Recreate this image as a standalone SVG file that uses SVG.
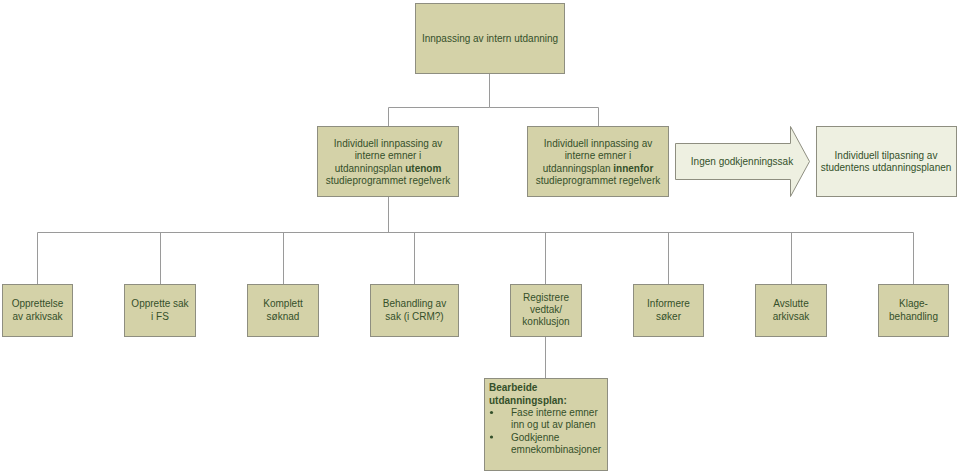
<svg xmlns="http://www.w3.org/2000/svg" width="960" height="471" viewBox="0 0 960 471">
<style>
.box{fill:#d4d2a8;stroke:#8e8e80;stroke-width:1}
.light{fill:#eef0e1;stroke:#8e8e80;stroke-width:1}
.t{font-family:"Liberation Sans",Arial,sans-serif;font-size:10px;fill:#34502a;text-anchor:middle}
.tl{font-family:"Liberation Sans",Arial,sans-serif;font-size:10px;fill:#34502a}
.b{font-weight:bold}
.ln{fill:none;stroke:#9a9a9a;stroke-width:1}
</style>
<rect width="960" height="471" fill="#ffffff"/>
<g id="connectors">
<polyline class="ln" points="489.5,73 489.5,107.5 388.5,107.5 388.5,126"/>
<polyline class="ln" points="489.5,107.5 598.5,107.5 598.5,126"/>
<line class="ln" x1="388.5" y1="196" x2="388.5" y2="232.5"/>
<line class="ln" x1="37.5" y1="232.5" x2="913.5" y2="232.5"/>
<line class="ln" x1="37.5" y1="232.5" x2="37.5" y2="284"/>
<line class="ln" x1="160.5" y1="232.5" x2="160.5" y2="284"/>
<line class="ln" x1="283.5" y1="232.5" x2="283.5" y2="284"/>
<line class="ln" x1="414.5" y1="232.5" x2="414.5" y2="284"/>
<line class="ln" x1="545.5" y1="232.5" x2="545.5" y2="284"/>
<line class="ln" x1="668.5" y1="232.5" x2="668.5" y2="284"/>
<line class="ln" x1="791.5" y1="232.5" x2="791.5" y2="284"/>
<line class="ln" x1="913.5" y1="232.5" x2="913.5" y2="284"/>
<line class="ln" x1="545.5" y1="336" x2="545.5" y2="378"/>
</g>
<g id="top">
<rect class="box" x="415.5" y="3.5" width="149" height="70"/>
<text class="t" x="490" y="42">Innpassing av intern utdanning</text>
</g>
<g id="utenom">
<rect class="box" x="317.5" y="126.5" width="141" height="70"/>
<text class="t" x="388" y="147">Individuell innpassing av</text>
<text class="t" x="388" y="159">interne emner i</text>
<text class="t" x="388" y="171.5">utdanningsplan <tspan class="b">utenom</tspan></text>
<text class="t" x="388" y="184">studieprogrammet regelverk</text>
</g>
<g id="innenfor">
<rect class="box" x="527.5" y="126.5" width="141" height="70"/>
<text class="t" x="598" y="147">Individuell innpassing av</text>
<text class="t" x="598" y="159">interne emner i</text>
<text class="t" x="598" y="171.5">utdanningsplan <tspan class="b">innenfor</tspan></text>
<text class="t" x="598" y="184">studieprogrammet regelverk</text>
</g>
<g id="ingen">
<path class="light" d="M675.5,143.5 L790.5,143.5 L790.5,126.5 L809.5,161.5 L790.5,196.5 L790.5,179.5 L675.5,179.5 Z"/>
<text class="t" x="742" y="165">Ingen godkjenningssak</text>
</g>
<g id="tilpasning">
<rect class="light" x="816.5" y="126.5" width="140" height="70"/>
<text class="t" x="886" y="159">Individuell tilpasning av</text>
<text class="t" x="886" y="171">studentens utdanningsplanen</text>
</g>
<g id="n1">
<rect class="box" x="2.5" y="284.5" width="70" height="52"/>
<text class="t" x="37.5" y="307">Opprettelse</text>
<text class="t" x="37.5" y="319.5">av arkivsak</text>
</g>
<g id="n2">
<rect class="box" x="124.5" y="284.5" width="71" height="52"/>
<text class="t" x="160" y="307">Opprette sak</text>
<text class="t" x="160" y="319.5">i FS</text>
</g>
<g id="n3">
<rect class="box" x="247.5" y="284.5" width="71" height="52"/>
<text class="t" x="283" y="307">Komplett</text>
<text class="t" x="283" y="319.5">søknad</text>
</g>
<g id="n4">
<rect class="box" x="370.5" y="284.5" width="88" height="52"/>
<text class="t" x="414.5" y="307">Behandling av</text>
<text class="t" x="414.5" y="319.5">sak (i CRM?)</text>
</g>
<g id="n5">
<rect class="box" x="510.5" y="284.5" width="71" height="52"/>
<text class="t" x="546" y="301">Registrere</text>
<text class="t" x="546" y="313">vedtak/</text>
<text class="t" x="546" y="325">konklusjon</text>
</g>
<g id="n6">
<rect class="box" x="633.5" y="284.5" width="70" height="52"/>
<text class="t" x="668.5" y="307">Informere</text>
<text class="t" x="668.5" y="319.5">søker</text>
</g>
<g id="n7">
<rect class="box" x="755.5" y="284.5" width="71" height="52"/>
<text class="t" x="791" y="307">Avslutte</text>
<text class="t" x="791" y="319.5">arkivsak</text>
</g>
<g id="n8">
<rect class="box" x="878.5" y="284.5" width="70" height="52"/>
<text class="t" x="913.5" y="307">Klage-</text>
<text class="t" x="913.5" y="319.5">behandling</text>
</g>
<g id="bearbeide">
<rect class="box" x="484.5" y="378.5" width="123" height="92"/>
<text class="tl b" x="489" y="391">Bearbeide</text>
<text class="tl b" x="489" y="404">utdanningsplan:</text>
<circle cx="491.5" cy="412.5" r="1.6" fill="#34502a"/>
<text class="tl" x="511" y="416">Fase interne emner</text>
<text class="tl" x="511" y="428">inn og ut av planen</text>
<circle cx="491.5" cy="437" r="1.6" fill="#34502a"/>
<text class="tl" x="511" y="440.5">Godkjenne</text>
<text class="tl" x="511" y="452.5">emnekombinasjoner</text>
</g>
</svg>
